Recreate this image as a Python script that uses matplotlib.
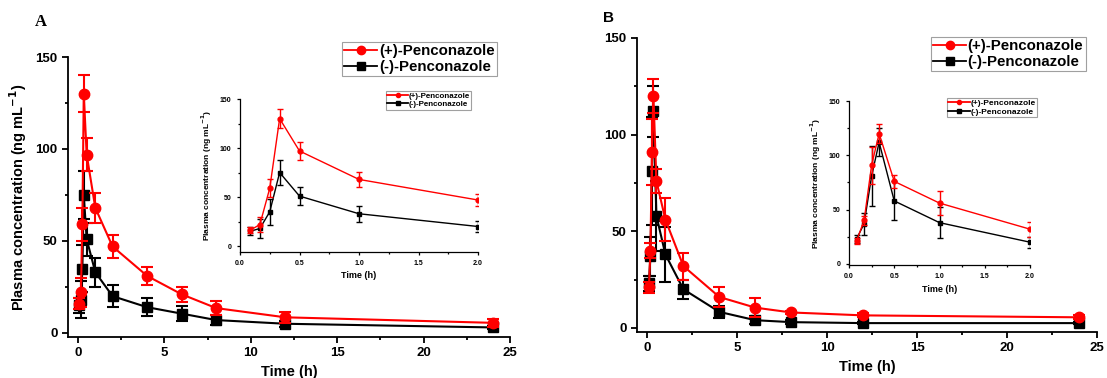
import numpy as np
import matplotlib
matplotlib.use('Agg')
import matplotlib.pyplot as plt
from matplotlib.lines import Line2D
from matplotlib.ticker import MultipleLocator

plt.rcParams['font.family'] = ['Liberation Sans', 'DejaVu Sans']
plt.rcParams['font.weight'] = 'bold'

# sampling times (h)
t = [0.083, 0.167, 0.25, 0.333, 0.5, 1, 2, 4, 6, 8, 12, 24]

# panel A
a_plus = [16, 22, 59, 130, 97, 68, 47, 31, 21, 13.5, 8.5, 5.5]
a_plus_err = [3, 8, 9, 10, 9, 8, 6, 5, 4, 4, 3, 2]
a_minus = [15, 18, 35, 75, 51, 33, 20, 14, 10.5, 7, 5, 3]
a_minus_err = [4, 10, 13, 13, 9, 8, 6, 5, 4, 2.5, 1.5, 1]

# panel B
b_plus = [21, 40, 91, 120, 76, 56, 32, 16, 10.5, 8, 6.5, 5.5]
b_plus_err = [3, 4, 17, 9, 6, 11, 7, 5, 5, 1, 1, 1]
b_minus = [23, 37, 81, 112, 58, 38, 20, 8.3, 4, 3, 2.5, 2.5]
b_minus_err = [4, 10, 28, 13, 18, 14, 5, 3, 2, 1, 0.5, 0.5]

labels = ['(+)-Penconazole', '(-)-Penconazole']
RED = '#ff0000'
BLK = '#000000'

W, H = 1107, 378
fig = plt.figure(figsize=(W / 100, H / 100), dpi=100)


def px_axes(x0, x1, y_top, y_bot):
    return fig.add_axes([x0 / W, 1 - y_bot / H, (x1 - x0) / W, (y_bot - y_top) / H])


def style(ax, fs, major_len, lw):
    for s in ['top', 'right']:
        ax.spines[s].set_visible(False)
    for s in ['left', 'bottom']:
        ax.spines[s].set_linewidth(lw)
    ax.tick_params(which='major', direction='out', length=major_len, width=lw, labelsize=fs)
    ax.tick_params(which='minor', direction='out', length=major_len * 0.6, width=lw)
    for lab in ax.get_xticklabels() + ax.get_yticklabels():
        lab.set_fontweight('bold')


def draw(ax, n, yp, ype, ym, yme, ms, lw, cap):
    ax.errorbar(t[:n], ym[:n], yerr=yme[:n], color=BLK, marker='s', ms=ms, lw=lw,
                capsize=cap, elinewidth=lw, capthick=lw, zorder=3)
    ax.errorbar(t[:n], yp[:n], yerr=ype[:n], color=RED, marker='o', ms=ms + 1, lw=lw,
                capsize=cap, elinewidth=lw, capthick=lw, zorder=4)


def legend(ax, x, y, fs, ms, hl):
    handles = [Line2D([], [], color=RED, marker='o', ms=ms, lw=1.3),
               Line2D([], [], color=BLK, marker='s', ms=ms, lw=1.3)]
    leg = ax.legend(handles, labels, loc='upper left', bbox_to_anchor=(x / W, 1 - y / H),
                    bbox_transform=fig.transFigure, fontsize=fs, handlelength=hl,
                    handletextpad=0.1, borderpad=0.15, labelspacing=0.1,
                    borderaxespad=0, fancybox=False, frameon=True)
    leg.get_frame().set_edgecolor('#888888')
    leg.get_frame().set_linewidth(0.8)
    for txt in leg.get_texts():
        txt.set_fontweight('bold')


def main_panel(x0, x1, y_top, y_bot, ylo, yp, ype, ym, yme, ylabel):
    ax = px_axes(x0, x1, y_top, y_bot)
    draw(ax, len(t), yp, ype, ym, yme, 6.5, 1.5, 4)
    ax.set_xlim(-0.58, 25)
    ax.set_ylim(ylo, 150)
    ax.set_xticks([0, 5, 10, 15, 20, 25])
    ax.set_yticks([0, 50, 100, 150])
    ax.xaxis.set_minor_locator(MultipleLocator(2.5))
    ax.yaxis.set_minor_locator(MultipleLocator(25))
    style(ax, 9.5, 4, 1.3)
    ax.set_xlabel('Time (h)', fontsize=10.5, fontweight='bold', labelpad=4)
    if ylabel:
        ax.set_ylabel('Plasma concentration (ng mL$^{\\mathbf{-1}}$)', fontsize=10.5,
                      fontweight='bold', labelpad=5)
    return ax


def inset_panel(x0, x1, y_top, y_bot, ylo, yp, ype, ym, yme):
    ax = px_axes(x0, x1, y_top, y_bot)
    draw(ax, 7, yp, ype, ym, yme, 2.5, 1.0, 2)
    ax.set_xlim(0, 2.0)
    ax.set_ylim(ylo, 150)
    ax.set_xticks([0, 0.5, 1.0, 1.5, 2.0])
    ax.set_xticklabels(['0.0', '0.5', '1.0', '1.5', '2.0'])
    ax.set_yticks([0, 50, 100, 150])
    ax.xaxis.set_minor_locator(MultipleLocator(0.25))
    ax.yaxis.set_minor_locator(MultipleLocator(25))
    style(ax, 5, 2.5, 0.9)
    ax.set_xlabel('Time (h)', fontsize=6.5, fontweight='bold', labelpad=3)
    ax.set_ylabel('Plasma concentration (ng mL$^{\\mathbf{-1}}$)', fontsize=6,
                  fontweight='bold', labelpad=4)
    return ax


axA = main_panel(68, 510, 57, 337, -2.2, a_plus, a_plus_err, a_minus, a_minus_err, True)
legend(axA, 342, 42, 10.8, 6, 2.2)
insA = inset_panel(240, 478, 99, 252, -6, a_plus, a_plus_err, a_minus, a_minus_err)
legend(insA, 386, 91, 5.8, 3, 2.6)

axB = main_panel(637, 1097, 38, 332, -2.1, b_plus, b_plus_err, b_minus, b_minus_err, False)
legend(axB, 931, 37, 10.8, 6, 2.2)
insB = inset_panel(849, 1030, 101, 265, -1, b_plus, b_plus_err, b_minus, b_minus_err)
legend(insB, 947, 98, 6, 3, 2.6)

fig.text(35 / W, 1 - 22 / H, 'A', fontsize=12, fontweight='bold',
         family=['Liberation Serif', 'DejaVu Serif'], va='center')
fig.text(603 / W, 1 - 18 / H, 'B', fontsize=11, fontweight='bold', va='center')

fig.savefig('out.png', dpi=100)
